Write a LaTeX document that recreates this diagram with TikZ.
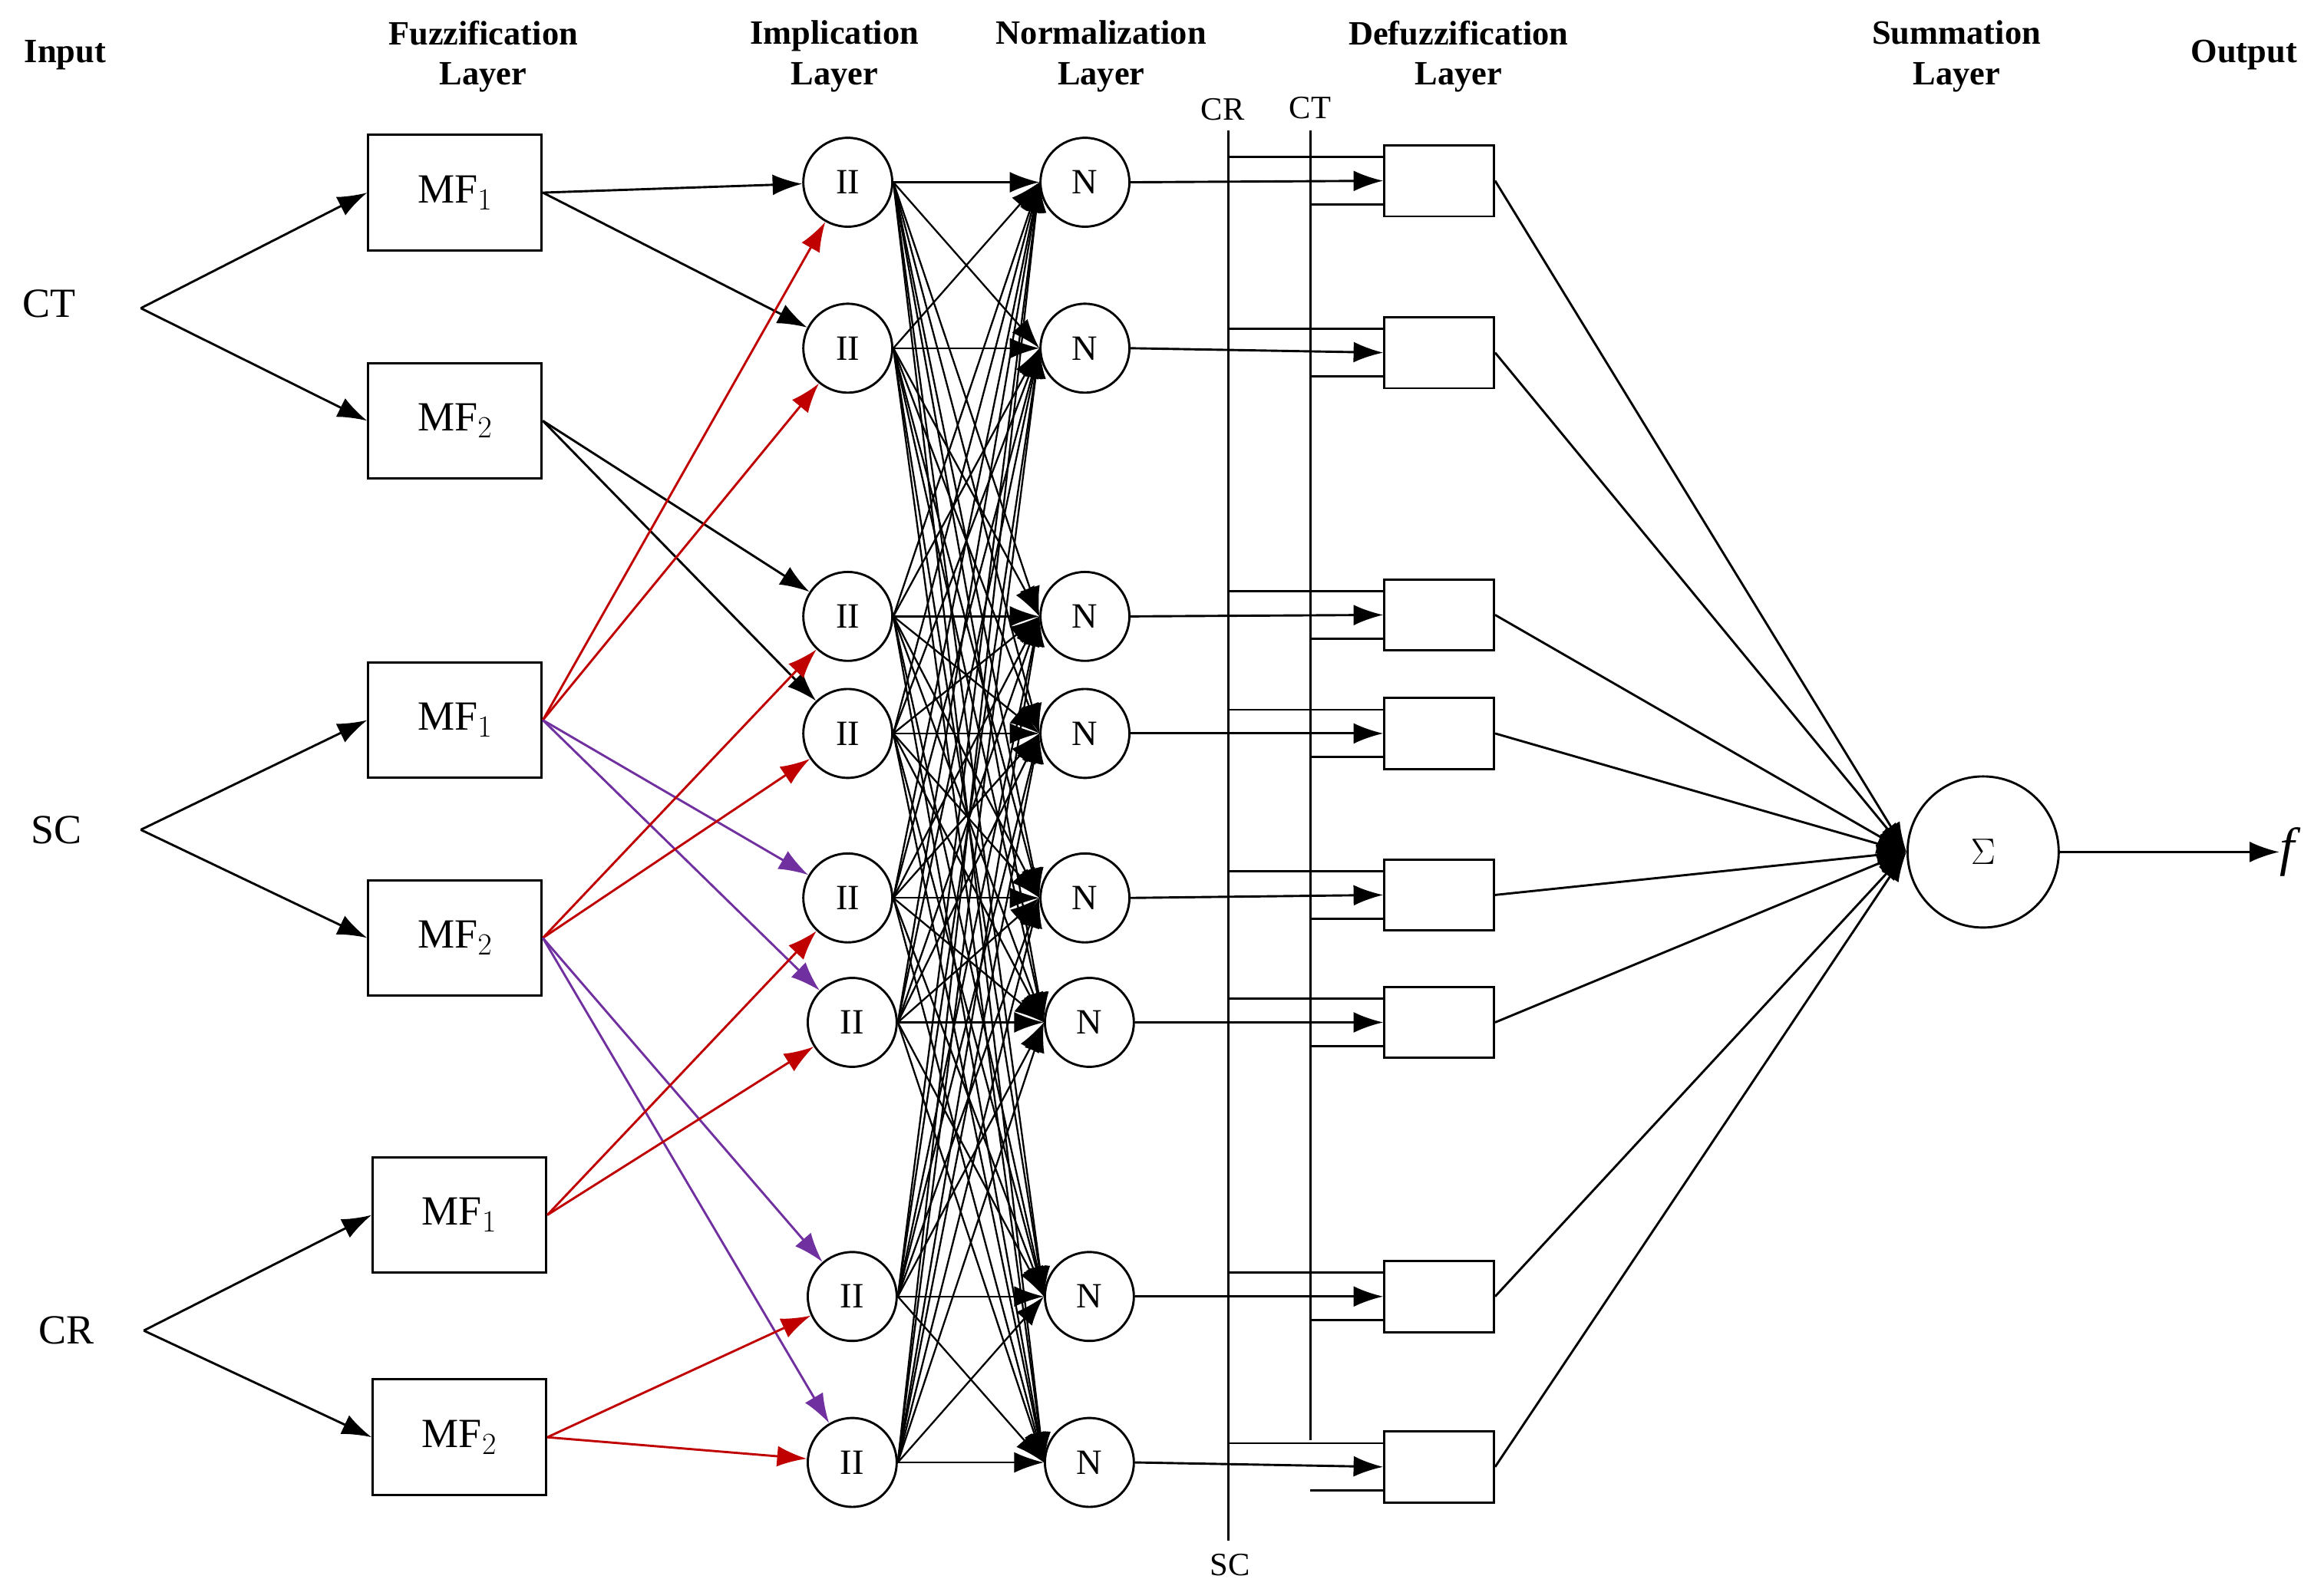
\documentclass[tikz,border=0pt]{standalone}
\usepackage{fontspec}
\setmainfont{Liberation Serif}
\usetikzlibrary{arrows.meta}
\definecolor{myred}{RGB}{192,0,0}
\definecolor{mypur}{RGB}{112,48,160}
\begin{document}
\begin{tikzpicture}[x=1pt,y=-1pt,
  every node/.style={inner sep=0pt},
  hd/.style={font=\fontsize{23}{27}\selectfont\bfseries,align=center},
  lab/.style={font=\fontsize{28}{30}\selectfont},
  mf/.style={draw,line width=1.5pt,minimum width=117pt,minimum height=78pt,font=\fontsize{28}{30}\selectfont},
  cir/.style={draw,circle,line width=1.5pt,minimum size=60pt,font=\fontsize{24}{26}\selectfont},
  box/.style={draw,line width=1.5pt,minimum width=74pt,minimum height=48pt},
  ar/.style={line width=1.5pt,-{Latex[length=20pt,width=14pt]}},
  ln/.style={line width=1.5pt}]
\useasboundingbox (0,0) rectangle (1568,1072);
\node[hd] at (44,37) {Input};
\node[hd] at (326,38) {Fuzzification\\Layer};
\node[hd] at (563,38) {Implication\\Layer};
\node[hd] at (743,38) {Normalization\\Layer};
\node[hd] at (984,38) {Defuzzification\\Layer};
\node[hd] at (1320,38) {Summation\\Layer};
\node[hd] at (1514,37) {Output};
\node[lab] (ct) at (33,205) {CT};
\node[lab] (sc) at (38,560) {SC};
\node[lab] (cr) at (45,898) {CR};
\coordinate (bct) at (95,208);
\coordinate (bsc) at (95,560);
\coordinate (bcr) at (97,898);
\node[mf] (a1) at (307,130) {MF$_1$};
\node[mf] (a2) at (307,284) {MF$_2$};
\node[mf] (b1) at (307,486) {MF$_1$};
\node[mf] (b2) at (307,633) {MF$_2$};
\node[mf] (c1) at (310,820) {MF$_1$};
\node[mf] (c2) at (310,970) {MF$_2$};
\draw[ar] (bct) -- (a1.west); \draw[ar] (bct) -- (a2.west);
\draw[ar] (bsc) -- (b1.west); \draw[ar] (bsc) -- (b2.west);
\draw[ar] (bcr) -- (c1.west); \draw[ar] (bcr) -- (c2.west);
\foreach \i/\x/\y in {1/572/123,2/572/235,3/572/416,4/572/495,5/572/606,6/575/690,7/575/875,8/575/987}
  \node[cir] (p\i) at (\x,\y) {II};
\foreach \i/\x/\y in {1/732/123,2/732/235,3/732/416,4/732/495,5/732/606,6/735/690,7/735/875,8/735/987}
  \node[cir] (n\i) at (\x,\y) {N};
\foreach \i/\y in {1/122,2/238,3/415,4/495,5/604,6/690,7/875,8/990}
  \node[box] (d\i) at (971,\y) {};
\draw[ar] (a1.east) -- (p1); \draw[ar] (a1.east) -- (p2);
\draw[ar] (a2.east) -- (p3); \draw[ar] (a2.east) -- (p4);
\draw[ar,myred] (b1.east) -- (p1); \draw[ar,myred] (b1.east) -- (p2);
\draw[ar,mypur] (b1.east) -- (p5); \draw[ar,mypur] (b1.east) -- (p6);
\draw[ar,myred] (b2.east) -- (p3); \draw[ar,myred] (b2.east) -- (p4);
\draw[ar,mypur] (b2.east) -- (p7); \draw[ar,mypur] (b2.east) -- (p8);
\draw[ar,myred] (c1.east) -- (p5); \draw[ar,myred] (c1.east) -- (p6);
\draw[ar,myred] (c2.east) -- (p7); \draw[ar,myred] (c2.east) -- (p8);
\foreach \i in {1,...,8}{\foreach \j in {1,...,8}{\draw[ar,line width=1.2pt] (p\i.east) -- (n\j.west);}}
% vertical bus lines
\node[font=\fontsize{22}{24}\selectfont] (lcr) at (825,74) {CR};
\node[font=\fontsize{22}{24}\selectfont] (lct) at (884,73) {CT};
\node[font=\fontsize{22}{24}\selectfont] (lsc) at (830,1056) {SC};
\coordinate (crt) at (829,88); \coordinate (crb) at (829,1040);
\coordinate (ctt) at (884,88); \coordinate (ctb) at (884,972);
\draw[ln] (crt) -- (crb);
\draw[ln] (ctt) -- (ctb);
\foreach \i in {1,...,8}{
  \draw[ln] (d\i.west |- 884,0) ++(0,0);
  \draw[ln] ([yshift=-16pt]d\i.west) -- ([yshift=-16pt]d\i.west -| ctt);
  \draw[ln] ([yshift=16pt]d\i.west) -- ([yshift=16pt]d\i.west -| crt);
  \draw[ar] (n\i.east) -- (d\i.west);
}
\node[draw,circle,line width=1.5pt,minimum size=102pt,font=\fontsize{30}{32}\selectfont] (s) at (1338,575) {$\Sigma$};
\foreach \i in {1,...,8}{\draw[ar] (d\i.east) -- (s.west);}
\node[font=\fontsize{36}{38}\selectfont\itshape] (f) at (1543,575) {f};
\draw[ar] (s.east) -- (f.west);
\end{tikzpicture}
\end{document}
